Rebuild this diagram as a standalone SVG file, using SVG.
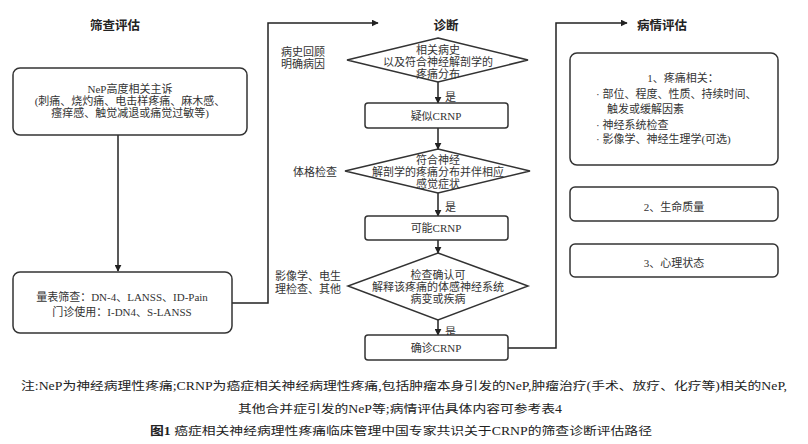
<svg xmlns="http://www.w3.org/2000/svg" width="808" height="444" viewBox="0 0 808 444">
<defs>
<marker id="ah" viewBox="0 0 10 10" refX="9" refY="5" markerWidth="7" markerHeight="7" orient="auto" markerUnits="userSpaceOnUse">
<path d="M0,0 L10,5 L0,10 z" fill="#222"/>
</marker>
</defs>
<style>
.box{fill:#fff;stroke:#333;stroke-width:1.5}
.ln{fill:none;stroke:#222;stroke-width:1.5}
.t{font-family:"Liberation Serif","Noto Sans CJK SC",serif;font-size:11px;fill:#333;text-anchor:middle}
.tl{font-family:"Liberation Serif","Noto Sans CJK SC",serif;font-size:11px;fill:#333}
.h{font-family:"Liberation Sans","Noto Sans CJK SC",sans-serif;font-size:12.5px;font-weight:bold;fill:#222;text-anchor:middle}
.c{font-family:"Liberation Serif","Noto Sans CJK SC",serif;font-size:11.5px;fill:#222;text-anchor:middle}
</style>
<rect width="808" height="444" fill="#fff"/>

<text class="h" x="115" y="30">筛查评估</text>
<text class="h" x="446" y="30">诊断</text>
<text class="h" x="662" y="30">病情评估</text>

<g id="connectors">
<line class="ln" x1="118" y1="135" x2="118" y2="271" marker-end="url(#ah)"/>
<polyline class="ln" points="232,303 268,303 268,23 378,23" marker-end="url(#ah)"/>
<line class="ln" x1="438" y1="82" x2="438" y2="103" marker-end="url(#ah)"/>
<line class="ln" x1="438" y1="128" x2="438" y2="149" marker-end="url(#ah)"/>
<line class="ln" x1="438" y1="193" x2="438" y2="216" marker-end="url(#ah)"/>
<line class="ln" x1="438" y1="240" x2="438" y2="253" marker-end="url(#ah)"/>
<line class="ln" x1="438" y1="320" x2="438" y2="335" marker-end="url(#ah)"/>
<polyline class="ln" points="508,348 556,348 556,23 627,23" marker-end="url(#ah)"/>
<text class="tl" x="445" y="101">是</text>
<text class="tl" x="445" y="211">是</text>
<text class="tl" x="445" y="336">是</text>
</g>

<g id="nep">
<rect class="box" x="13" y="68" width="234" height="67" rx="7"/>
<text class="t" x="130" y="93">NeP高度相关主诉</text>
<text class="t" x="130" y="105">(刺痛、烧灼痛、电击样疼痛、麻木感、</text>
<text class="t" x="130" y="117">瘙痒感、触觉减退或痛觉过敏等)</text>
</g>

<g id="scale">
<rect class="box" x="13" y="272" width="219" height="61" rx="7"/>
<text class="t" x="122" y="301">量表筛查：DN-4、LANSS、ID-Pain</text>
<text class="t" x="122" y="316">门诊使用：I-DN4、S-LANSS</text>
</g>

<g id="d1">
<polygon class="box" points="438,38 528,60 438,82 347,60"/>
<text class="t" x="438" y="54">相关病史</text>
<text class="t" x="438" y="66">以及符合神经解剖学的</text>
<text class="t" x="438" y="78">疼痛分布</text>
<text class="t" x="303" y="56">病史回顾</text>
<text class="t" x="303" y="68">明确病因</text>
</g>

<g id="suspect">
<rect class="box" x="365" y="103" width="143" height="25" rx="3"/>
<text class="t" x="436" y="120">疑似CRNP</text>
</g>

<g id="d2">
<polygon class="box" points="438,149 530,171 438,193 345,171"/>
<text class="t" x="438" y="164">符合神经</text>
<text class="t" x="438" y="176">解剖学的疼痛分布并伴相应</text>
<text class="t" x="438" y="188">感觉症状</text>
<text class="t" x="315" y="176">体格检查</text>
</g>

<g id="possible">
<rect class="box" x="365" y="216" width="143" height="24" rx="3"/>
<text class="t" x="436" y="232">可能CRNP</text>
</g>

<g id="d3">
<polygon class="box" points="438,253 528,286 438,320 348,286"/>
<text class="t" x="438" y="279">检查确认可</text>
<text class="t" x="438" y="291">解释该疼痛的体感神经系统</text>
<text class="t" x="438" y="303">病变或疾病</text>
<text class="t" x="308" y="280">影像学、电生</text>
<text class="t" x="308" y="293">理检查、其他</text>
</g>

<g id="confirm">
<rect class="box" x="365" y="335" width="143" height="25" rx="3"/>
<text class="t" x="436" y="352">确诊CRNP</text>
</g>

<g id="pain">
<rect class="box" x="570" y="53" width="208" height="112" rx="7"/>
<text class="t" x="683" y="82">1、疼痛相关：</text>
<text class="tl" x="596" y="98">· 部位、程度、性质、持续时间、</text>
<text class="tl" x="607" y="113">触发或缓解因素</text>
<text class="tl" x="596" y="129">· 神经系统检查</text>
<text class="tl" x="596" y="143">· 影像学、神经生理学(可选)</text>
</g>

<g id="qol">
<rect class="box" x="570" y="187" width="208" height="34" rx="5"/>
<text class="t" x="674" y="211">2、生命质量</text>
</g>

<g id="psy">
<rect class="box" x="570" y="244" width="208" height="33" rx="5"/>
<text class="t" x="674" y="267">3、心理状态</text>
</g>

<text class="c" x="404" y="390" textLength="766" lengthAdjust="spacingAndGlyphs">注:NeP为神经病理性疼痛;CRNP为癌症相关神经病理性疼痛,包括肿瘤本身引发的NeP,肿瘤治疗(手术、放疗、化疗等)相关的NeP,</text>
<text class="c" x="400" y="413" textLength="324" lengthAdjust="spacingAndGlyphs">其他合并症引发的NeP等;病情评估具体内容可参考表4</text>
<text class="c" x="401" y="435" textLength="502" lengthAdjust="spacingAndGlyphs"><tspan font-weight="bold">图1</tspan>   癌症相关神经病理性疼痛临床管理中国专家共识关于CRNP的筛查诊断评估路径</text>
</svg>
